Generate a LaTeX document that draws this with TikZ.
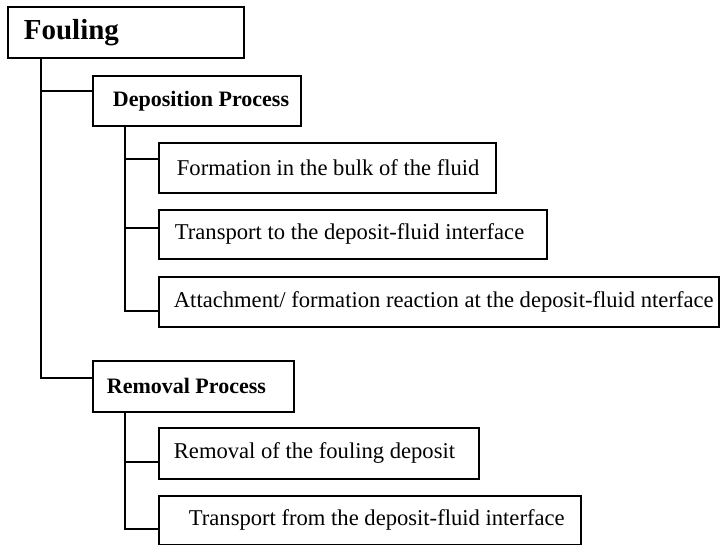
\documentclass[tikz,border=0pt]{standalone}
\usepackage{fontspec}
\setmainfont{Liberation Serif}
\newcommand\bxt[3]{\makebox[#1pt][l]{\hspace{#2pt}#3}}
\tikzset{
  box/.style={draw, line width=1.8pt, inner sep=0pt, anchor=north west},
  conn/.style={draw, line width=1.8pt},
  headbig/.style={font=\fontsize{29pt}{33pt}\selectfont\bfseries},
  head/.style={font=\fontsize{22pt}{26pt}\selectfont\bfseries},
  item/.style={font=\fontsize{22.6pt}{26pt}\selectfont},
}
\begin{document}
\begin{tikzpicture}[x=1pt,y=-1pt]
\useasboundingbox (0,0) rectangle (721,545);
\node[box,headbig,minimum height=51pt] (F) at (7,6) {\bxt{236}{16}{Fouling}};
\node[box,head,minimum height=50pt] (D) at (92,75) {\bxt{208}{20}{Deposition Process}};
\node[box,item,minimum height=50pt] (D1) at (158,142) {\bxt{337}{18}{Formation in the bulk of the fluid}};
\node[box,item,minimum height=49pt] (D2) at (158,209) {\bxt{388}{16}{Transport to the deposit-fluid interface}};
\node[box,item,minimum height=50pt] (D3) at (158,276) {\bxt{560}{15}{Attachment/ formation reaction at the deposit-fluid nterface}};
\node[box,head,minimum height=51pt] (R) at (92,360) {\bxt{201}{14}{Removal Process}};
\node[box,item,minimum height=51pt] (R1) at (158,427) {\bxt{320}{15}{Removal of the fouling deposit}};
\node[box,item,minimum height=49pt] (R2) at (158,495) {\bxt{422}{30}{Transport from the deposit-fluid interface}};
% main trunk
\draw[conn] ([xshift=34pt]F.south west) |- ([yshift=8.5pt]R.west);
\draw[conn] ([xshift=34pt]F.south west) |- ([yshift=10pt]D.west);
% deposition sub-trunk
\draw[conn] ([xshift=33pt]D.south west) |- ([yshift=-9pt]D3.west);
\draw[conn] ([xshift=33pt]D.south west) |- ([yshift=9pt]D1.west);
\draw[conn] ([xshift=33pt]D.south west) |- ([yshift=6.5pt]D2.west);
% removal sub-trunk
\draw[conn] ([xshift=33pt]R.south west) |- ([yshift=-8.5pt]R2.west);
\draw[conn] ([xshift=33pt]R.south west) |- ([yshift=-8.5pt]R1.west);
\end{tikzpicture}
\end{document}
